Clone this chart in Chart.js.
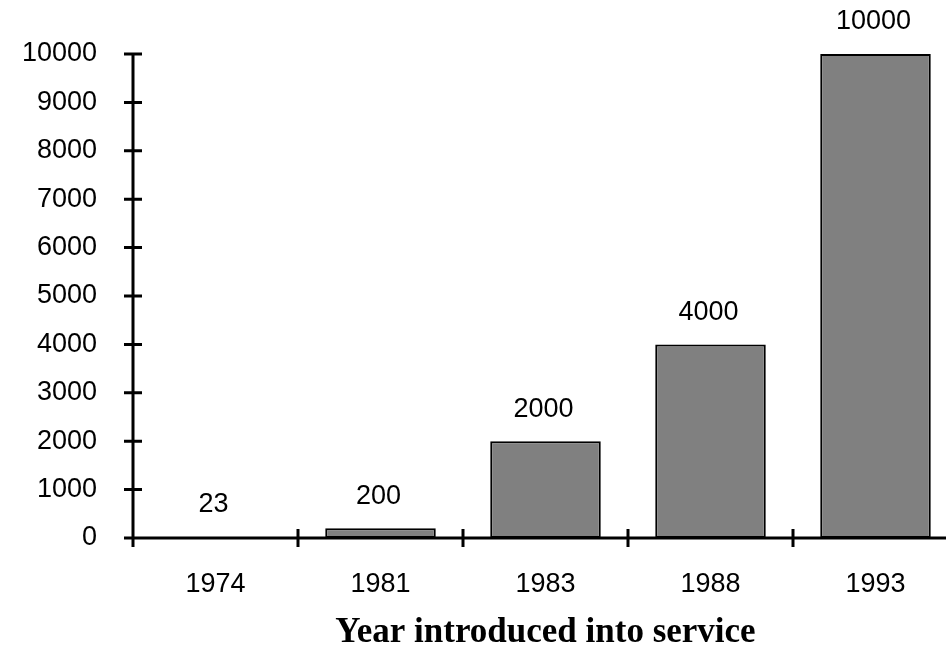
<!DOCTYPE html>
<html>
<head>
<meta charset="utf-8">
<script src="https://cdn.jsdelivr.net/npm/chart.js@4/dist/chart.umd.min.js"></script>
<style>
  html, body { margin: 0; padding: 0; background: #fff; overflow: hidden; }
  #frame { width: 946px; height: 650px; overflow: hidden; position: relative; }
  #wrap { width: 960px; height: 650px; position: absolute; left: 0; top: 0; }
</style>
</head>
<body>
<div id="frame"><div id="wrap"><canvas id="c" width="960" height="650"></canvas></div></div>
<script>
// Year each system entered service, and its capacity
const years = ['1974', '1981', '1983', '1988', '1993'];
const capacity = [23, 200, 2000, 4000, 10000];
const yTicks = [0, 1000, 2000, 3000, 4000, 5000, 6000, 7000, 8000, 9000, 10000];
const axisTitle = 'Year introduced into service';

const SANS = '"Liberation Sans", Arial, Helvetica, sans-serif';
const SERIF = '"Liberation Serif", "Times New Roman", Times, serif';
const LABEL_SIZE = 27;

// Axis lines with tick marks that cross the line on both sides
const axesPlugin = {
  id: 'crossAxes',
  afterDatasetsDraw(chart) {
    const { ctx, chartArea, scales: { x, y } } = chart;
    const ax = chartArea.left;
    const ay = y.getPixelForValue(0);
    const half = 9;
    ctx.save();
    ctx.strokeStyle = '#000';
    ctx.lineWidth = 3;
    ctx.lineCap = 'butt';
    ctx.beginPath();
    // vertical axis
    ctx.moveTo(ax, y.getPixelForValue(yTicks[yTicks.length - 1]) - 1.5);
    ctx.lineTo(ax, ay + half);
    // horizontal axis
    ctx.moveTo(ax - half, ay);
    ctx.lineTo(chart.width, ay);
    // value ticks
    yTicks.forEach(v => {
      const py = y.getPixelForValue(v);
      ctx.moveTo(ax - half, py);
      ctx.lineTo(ax + half, py);
    });
    // category separators
    for (let i = 0; i < years.length - 1; i++) {
      const px = (x.getPixelForValue(i) + x.getPixelForValue(i + 1)) / 2;
      ctx.moveTo(px, ay - half);
      ctx.lineTo(px, ay + half);
    }
    ctx.stroke();
    ctx.restore();
  }
};

// Value printed above each bar
const valueLabels = {
  id: 'valueLabels',
  afterDraw(chart) {
    const { ctx } = chart;
    const meta = chart.getDatasetMeta(0);
    ctx.save();
    ctx.fillStyle = '#000';
    ctx.font = LABEL_SIZE + 'px ' + SANS;
    ctx.textAlign = 'center';
    ctx.textBaseline = 'middle';
    meta.data.forEach((bar, i) => {
      ctx.fillText(String(capacity[i]), bar.x - 2, bar.y - 32);
    });
    ctx.restore();
  }
};

new Chart(document.getElementById('c'), {
  type: 'bar',
  data: {
    labels: years,
    datasets: [{
      data: capacity,
      backgroundColor: '#808080',
      borderColor: '#000',
      borderWidth: 2,
      borderSkipped: false,
      categoryPercentage: 1,
      barPercentage: 0.67
    }]
  },
  options: {
    responsive: false,
    animation: false,
    layout: { padding: { top: 54, right: 2, bottom: 0, left: 0 } },
    plugins: {
      legend: { display: false },
      tooltip: { enabled: false }
    },
    scales: {
      x: {
        grid: { display: false, drawTicks: false },
        border: { display: false },
        ticks: { color: '#000', font: { family: SANS, size: LABEL_SIZE }, padding: 30, maxRotation: 0 },
        title: {
          display: true,
          text: axisTitle,
          color: '#000',
          font: { family: SERIF, size: 35, weight: 'bold', lineHeight: 1 },
          padding: { top: 0, bottom: 0 }
        },
        afterFit(scale) { scale.height = 112; }
      },
      y: {
        min: 0,
        max: 10000,
        grid: { display: false, drawTicks: false },
        border: { display: false },
        ticks: {
          stepSize: 1000,
          color: '#000',
          font: { family: SANS, size: LABEL_SIZE },
          padding: 36,
          callback: v => String(v)
        },
        afterBuildTicks(scale) { scale.ticks = yTicks.map(v => ({ value: v })); },
        afterFit(scale) { scale.width = 133; }
      }
    }
  },
  plugins: [axesPlugin, valueLabels]
});
</script>
</body>
</html>
